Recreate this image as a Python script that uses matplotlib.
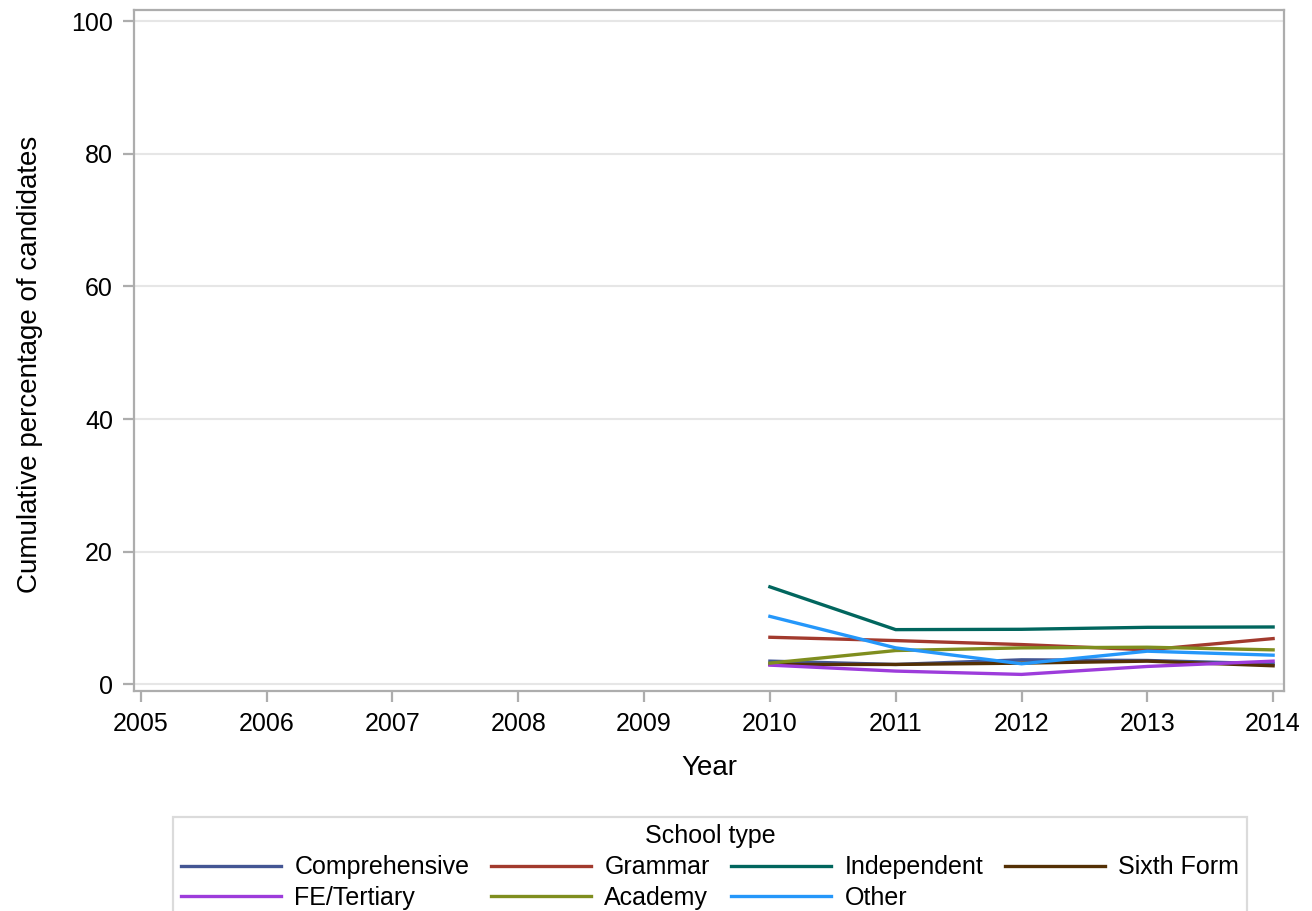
import numpy as np
import matplotlib.pyplot as plt

plt.rcParams['font.family'] = ['Liberation Sans', 'DejaVu Sans']

years = [2010, 2011, 2012, 2013, 2014]
school_types = ['Comprehensive', 'Grammar', 'Independent', 'Sixth Form',
                'FE/Tertiary', 'Academy', 'Other']
comprehensive = [3.5, 3.0, 3.7, 3.6, 3.1]
grammar = [7.1, 6.6, 6.0, 5.2, 6.9]
independent = [14.7, 8.25, 8.3, 8.6, 8.65]
sixth_form = [3.0, 3.0, 3.2, 3.5, 2.8]
fe_tertiary = [2.9, 2.0, 1.5, 2.7, 3.5]
academy = [3.2, 5.1, 5.5, 5.6, 5.2]
other = [10.25, 5.5, 3.1, 5.0, 4.4]

series = [comprehensive, grammar, independent, sixth_form, fe_tertiary, academy, other]
colors = ['#445694', '#A23A2E', '#01665E', '#543005', '#9D3CDB', '#7F8E1F', '#2597FA']

fig = plt.figure(figsize=(13.12, 9.11), dpi=100)
ax = fig.add_axes([0.102, 0.2415, 0.8767, 0.7475])

for name, vals, c in zip(school_types, series, colors):
    ax.plot(years, vals, color=c, lw=2.4, label=name)

ax.set_xlim(2004.944, 2014.087)
ax.set_ylim(-1.0, 101.66)
ax.set_xticks(range(2005, 2015))
ax.set_yticks([0, 20, 40, 60, 80, 100])
ax.yaxis.grid(True, color='#e6e6e6', lw=1.5)
ax.set_axisbelow(True)
for s in ax.spines.values():
    s.set_color('#adadad')
    s.set_linewidth(1.6)
ax.tick_params(colors='#adadad', labelcolor='black', labelsize=18, length=8, width=1.6, pad=7)
ax.set_xlabel('Year', fontsize=20, labelpad=14)
ax.set_ylabel('Cumulative percentage of candidates', fontsize=20, labelpad=20)
ax.yaxis.label.set_y(0.48)

order = [0, 4, 1, 5, 2, 6, 3]
h, l = ax.get_legend_handles_labels()
leg = fig.legend([h[i] for i in order], [l[i] for i in order], ncol=4,
                 loc='upper center', bbox_to_anchor=(710 / 1312, 1 - 817 / 911),
                 title='School type', fontsize=18, title_fontsize=18,
                 frameon=True, fancybox=False, edgecolor='#d3d3d3',
                 handlelength=4, handletextpad=0.55, columnspacing=0.85,
                 labelspacing=0.27, borderpad=0.3, borderaxespad=0)
leg.get_frame().set_linewidth(1.6)

fig.savefig('out.png', dpi=100)
